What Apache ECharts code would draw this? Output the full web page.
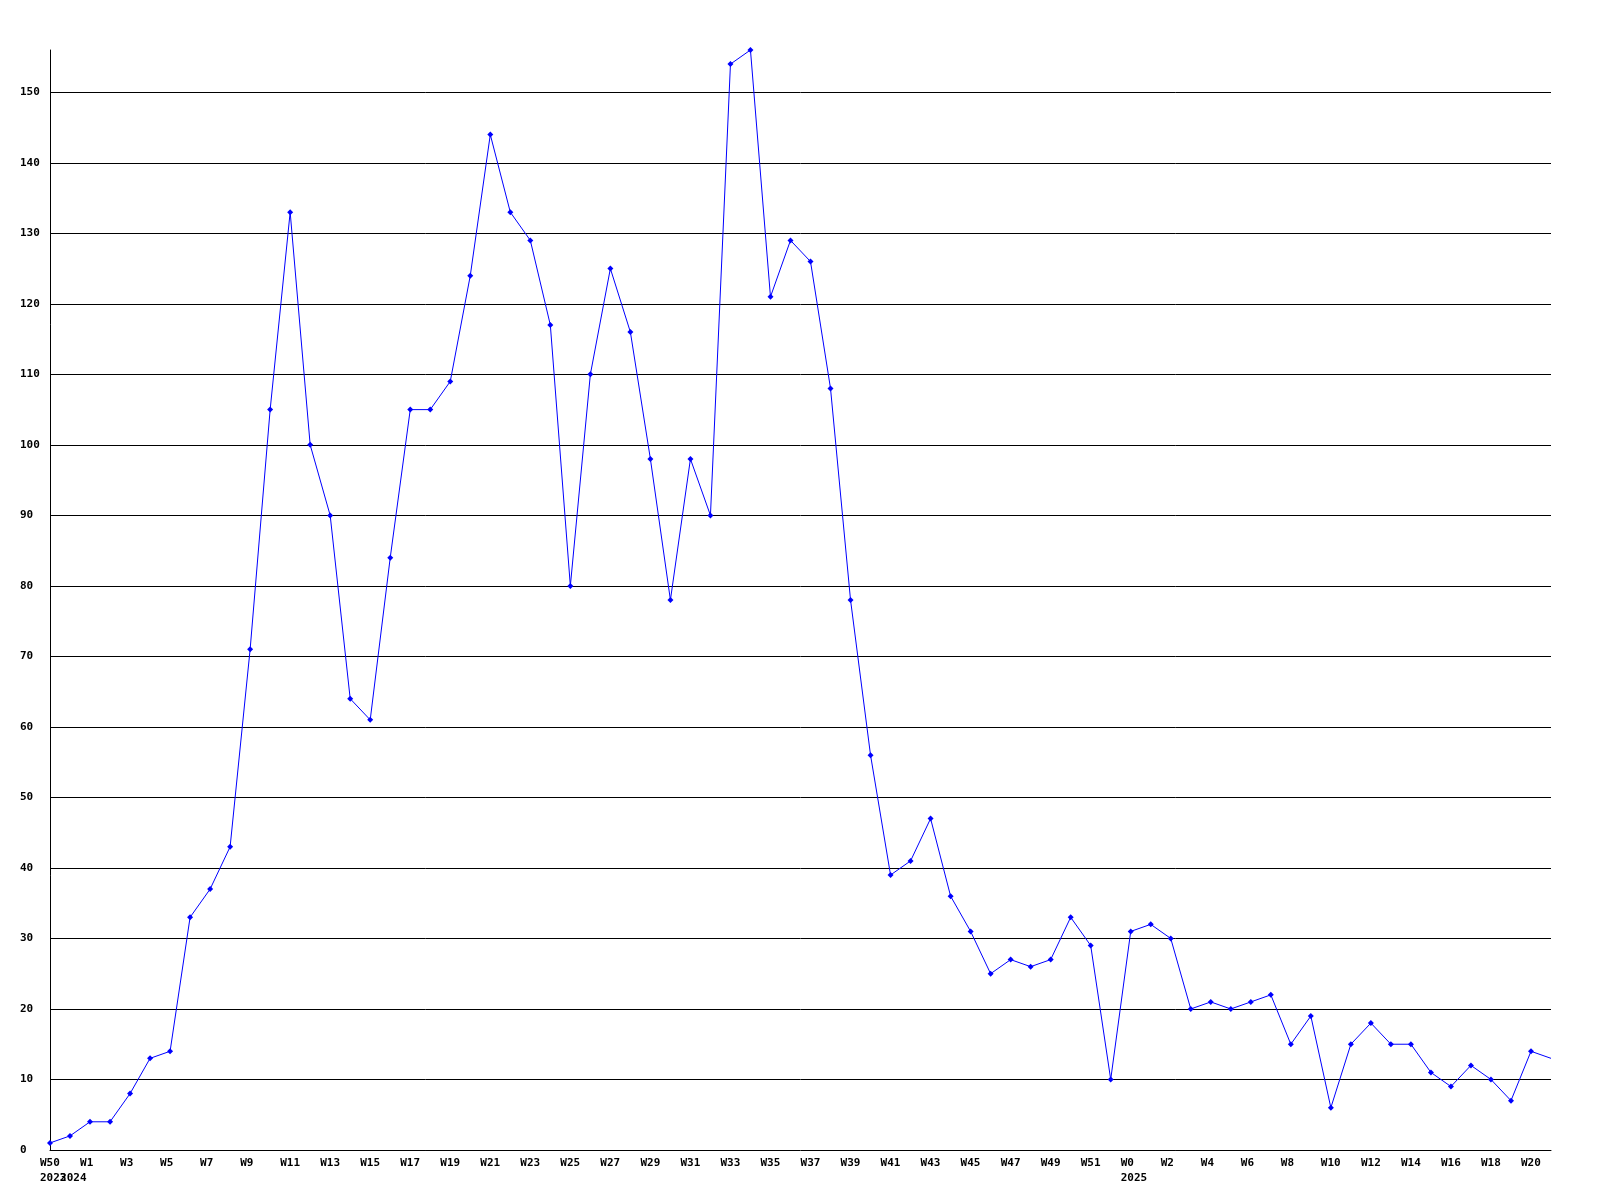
<!DOCTYPE html>
<html>
<head>
<meta charset="utf-8">
<script src="https://cdn.jsdelivr.net/npm/echarts@6/dist/echarts.min.js"></script>
<style>
html,body{margin:0;padding:0;background:#fff;}
#chart{width:1600px;height:1200px;}
</style>
</head>
<body>
<div id="chart"></div>
<script>
// Week categories (one per data point)
const weeks = ['W50','W0','W1','W2','W3','W4','W5','W6','W7','W8','W9','W10','W11','W12','W13','W14','W15','W16','W17','W18','W19','W20','W21','W22','W23','W24','W25','W26','W27','W28','W29','W30','W31','W32','W33','W34','W35','W36','W37','W38','W39','W40','W41','W42','W43','W44','W45','W46','W47','W48','W49','W50','W51','W52','W0','W1','W2','W3','W4','W5','W6','W7','W8','W9','W10','W11','W12','W13','W14','W15','W16','W17','W18','W19','W20','W21'];
// Year labels shown under the week labels at these category indices
const yearIndex = [0, 1, 54];
const yearText = ['2023', '2024', '2025'];
// Values
const values = [1,2,4,4,8,13,14,33,37,43,71,105,133,100,90,64,61,84,105,105,109,124,144,133,129,117,80,110,125,116,98,78,98,90,154,156,121,129,126,108,78,56,39,41,47,36,31,25,27,26,27,33,29,10,31,32,30,20,21,20,21,22,15,19,6,15,18,15,15,11,9,12,10,7,14,13];
const yTicks = [0,10,20,30,40,50,60,70,80,90,100,110,120,130,140,150];

const chart = echarts.init(document.getElementById('chart'));
const font = 'DejaVu Sans Mono';
chart.setOption({
  animation: false,
  backgroundColor: '#ffffff',
  grid: { left: 50, right: 49, top: 50, bottom: 50, containLabel: false },
  xAxis: {
    type: 'category',
    data: weeks,
    boundaryGap: false,
    axisLine: { lineStyle: { color: '#000', width: 1 } },
    axisTick: { show: false },
    splitLine: { show: false },
    axisLabel: {
      interval: 0,
      align: 'left',
      padding: [0, 0, 0, -10],
      margin: 6,
      color: '#000',
      fontFamily: font,
      fontWeight: 'bold',
      fontSize: 11,
      lineHeight: 15,
      formatter: function (v, i) {
        let s = (i % 2 === 0) ? v : '';
        const k = yearIndex.indexOf(i);
        if (k >= 0) s += '\n' + yearText[k];
        return s;
      }
    }
  },
  yAxis: {
    type: 'value',
    min: 0,
    max: Math.max.apply(null, values),
    interval: 10,
    axisLine: { show: true, lineStyle: { color: '#000', width: 1 } },
    axisTick: { show: false },
    splitLine: { show: true, showMinLine: false, showMaxLine: false, lineStyle: { color: '#000', width: 1 } },
    axisLabel: {
      margin: 30,
      align: 'left',
      color: '#000',
      fontFamily: font,
      fontWeight: 'bold',
      fontSize: 11,
      showMaxLabel: false,
      formatter: function (v) { return yTicks.indexOf(v) >= 0 ? String(v) : ''; }
    }
  },
  series: [{
    type: 'line',
    data: values,
    color: '#0000ff',
    lineStyle: { color: '#0000ff', width: 1 },
    itemStyle: { color: '#0000ff' },
    symbol: function (val, params) { return params.dataIndex === values.length - 1 ? 'none' : 'diamond'; },
    symbolSize: 6,
    showAllSymbol: true,
    clip: false
  }]
});
</script>
</body>
</html>
